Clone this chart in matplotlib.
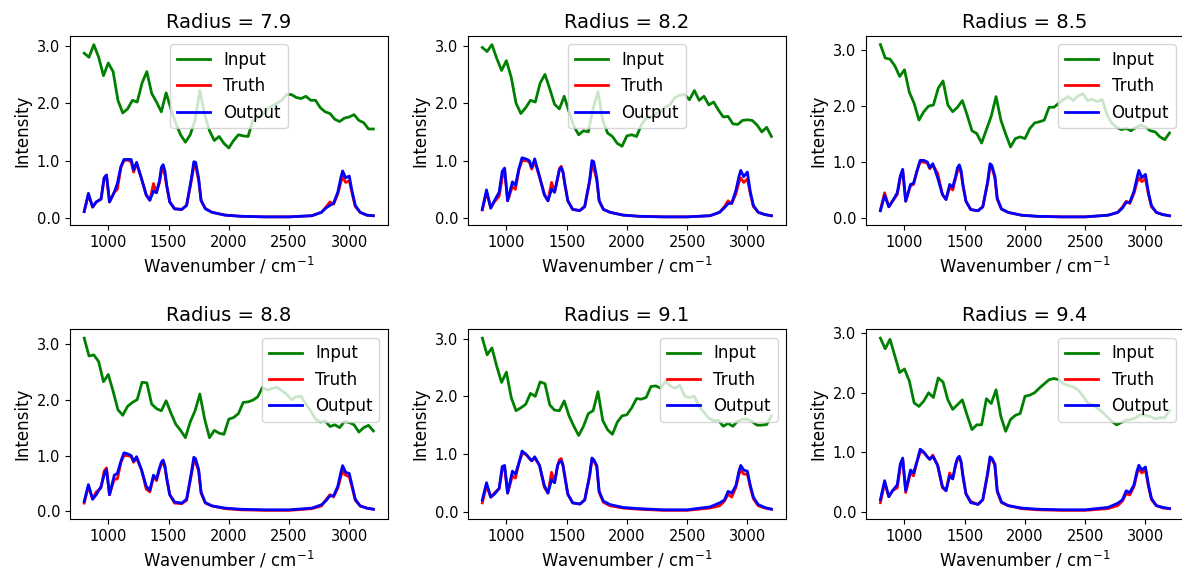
import matplotlib
matplotlib.use("Agg")
import matplotlib.pyplot as plt
from matplotlib.ticker import FormatStrFormatter
import numpy as np

radii = [7.9, 8.2, 8.5, 8.8, 9.1, 9.4]

# wavenumber grids (cm^-1)
wn_input = np.arange(800, 3201, 40)
wn_spec = [800, 835, 870, 900, 940, 965, 985, 1010, 1050, 1075, 1105, 1130, 1160, 1190,
           1210, 1235, 1275, 1315, 1345, 1375, 1400, 1425, 1440, 1455, 1470, 1485, 1510,
           1550, 1610, 1650, 1690, 1710, 1725, 1750, 1770, 1805, 1860, 1970, 2100, 2300,
           2500, 2690, 2770, 2810, 2840, 2870, 2905, 2930, 2945, 2970, 3000, 3025, 3050,
           3090, 3145, 3200]

# input spectra
input_79 = [2.87, 2.80, 3.02, 2.80, 2.48, 2.70, 2.55, 2.05, 1.83, 1.90, 2.05, 2.02, 2.35, 2.55,
            2.17, 2.02, 1.85, 2.18, 1.90, 1.65, 1.45, 1.32, 1.45, 1.70, 2.22, 1.80, 1.52, 1.35,
            1.42, 1.30, 1.22, 1.35, 1.45, 1.43, 1.42, 1.70, 1.75, 1.80, 1.90, 1.95, 2.00, 2.05,
            2.15, 2.15, 2.10, 2.08, 2.12, 2.05, 2.05, 1.92, 1.85, 1.82, 1.72, 1.68, 1.74, 1.76,
            1.80, 1.70, 1.66, 1.55, 1.55]
input_82 = [2.97, 2.90, 3.02, 2.78, 2.57, 2.74, 2.45, 2.00, 1.82, 1.92, 2.05, 2.02, 2.35, 2.50,
            2.25, 1.98, 1.90, 2.12, 1.85, 1.60, 1.45, 1.52, 1.50, 1.91, 2.20, 1.70, 1.48, 1.42,
            1.30, 1.25, 1.43, 1.45, 1.42, 1.62, 1.74, 1.75, 1.82, 1.85, 1.93, 1.98, 2.10, 2.14,
            2.15, 2.06, 2.22, 2.05, 2.12, 1.97, 2.02, 1.88, 1.76, 1.77, 1.64, 1.63, 1.70, 1.71,
            1.70, 1.62, 1.50, 1.58, 1.42]
input_85 = [3.10, 2.86, 2.84, 2.72, 2.53, 2.65, 2.25, 2.05, 1.75, 1.90, 2.00, 2.02, 2.32, 2.45,
            2.02, 1.90, 1.98, 2.10, 1.84, 1.56, 1.51, 1.34, 1.58, 1.82, 2.17, 1.75, 1.50, 1.27,
            1.42, 1.45, 1.42, 1.60, 1.70, 1.72, 1.75, 1.98, 1.98, 2.05, 2.12, 2.17, 2.10, 2.18,
            2.22, 2.10, 2.12, 2.08, 2.12, 1.85, 1.70, 1.62, 1.58, 1.60, 1.56, 1.62, 1.66, 1.63,
            1.56, 1.54, 1.45, 1.40, 1.52]
input_88 = [3.10, 2.78, 2.80, 2.68, 2.32, 2.45, 2.15, 1.82, 1.72, 1.88, 1.95, 2.00, 2.31, 2.30,
            1.92, 1.84, 1.80, 1.98, 1.76, 1.56, 1.45, 1.32, 1.60, 1.80, 2.10, 1.65, 1.32, 1.45,
            1.40, 1.38, 1.65, 1.68, 1.75, 1.95, 1.96, 1.99, 2.05, 2.22, 2.17, 2.20, 2.22, 2.16,
            2.10, 2.00, 2.05, 2.06, 1.92, 1.80, 1.65, 1.60, 1.62, 1.52, 1.55, 1.50, 1.61, 1.59,
            1.55, 1.42, 1.50, 1.54, 1.44]
input_91 = [3.01, 2.72, 2.84, 2.52, 2.24, 2.42, 1.98, 1.75, 1.80, 1.86, 2.05, 2.00, 2.25, 2.22,
            1.85, 1.76, 1.75, 1.92, 1.66, 1.48, 1.32, 1.48, 1.70, 1.75, 2.08, 1.58, 1.42, 1.34,
            1.55, 1.66, 1.68, 1.80, 1.96, 1.95, 1.98, 2.17, 2.18, 2.14, 2.26, 2.18, 2.14, 2.19,
            2.00, 1.98, 2.00, 1.82, 1.72, 1.62, 1.58, 1.58, 1.48, 1.53, 1.48, 1.57, 1.60, 1.60,
            1.56, 1.50, 1.50, 1.51, 1.66]
input_94 = [2.92, 2.74, 2.90, 2.62, 2.34, 2.40, 2.20, 1.83, 1.77, 1.86, 2.00, 1.92, 2.25, 2.18,
            1.88, 1.72, 1.80, 1.88, 1.62, 1.38, 1.46, 1.46, 1.90, 1.82, 2.05, 1.60, 1.35, 1.55,
            1.62, 1.65, 1.94, 1.96, 2.00, 2.08, 2.15, 2.22, 2.24, 2.22, 2.15, 2.12, 2.10, 2.05,
            1.95, 1.83, 1.80, 1.74, 1.68, 1.60, 1.52, 1.46, 1.50, 1.54, 1.55, 1.58, 1.63, 1.62,
            1.60, 1.56, 1.58, 1.58, 1.70]

# ground truth spectra
truth_79 = [0.12, 0.40, 0.19, 0.28, 0.33, 0.68, 0.74, 0.28, 0.45, 0.50, 0.88, 1.00, 1.01, 0.98,
            0.80, 0.95, 0.69, 0.40, 0.31, 0.60, 0.45, 0.62, 0.80, 0.85, 0.75, 0.55, 0.28,
            0.16, 0.15, 0.22, 0.66, 0.90, 0.90, 0.66, 0.30, 0.17, 0.10, 0.05, 0.03, 0.02,
            0.02, 0.04, 0.10, 0.20, 0.28, 0.24, 0.42, 0.62, 0.72, 0.62, 0.65, 0.42, 0.20,
            0.10, 0.05, 0.04]
truth_82 = [0.14, 0.45, 0.18, 0.28, 0.38, 0.70, 0.85, 0.30, 0.55, 0.50, 0.85, 1.00, 1.00, 0.98,
            0.85, 0.98, 0.72, 0.42, 0.30, 0.62, 0.45, 0.68, 0.86, 0.90, 0.80, 0.58, 0.30,
            0.15, 0.13, 0.20, 0.62, 0.90, 0.88, 0.66, 0.30, 0.15, 0.10, 0.05, 0.03, 0.02,
            0.02, 0.04, 0.10, 0.20, 0.30, 0.25, 0.42, 0.62, 0.70, 0.62, 0.68, 0.42, 0.20,
            0.10, 0.06, 0.04]
truth_85 = [0.14, 0.45, 0.20, 0.30, 0.42, 0.72, 0.85, 0.30, 0.58, 0.60, 0.85, 1.00, 1.00, 0.98,
            0.88, 0.95, 0.80, 0.42, 0.33, 0.55, 0.50, 0.72, 0.84, 0.88, 0.80, 0.58, 0.30,
            0.15, 0.13, 0.20, 0.62, 0.92, 0.90, 0.72, 0.33, 0.16, 0.10, 0.05, 0.03, 0.02,
            0.02, 0.05, 0.10, 0.20, 0.30, 0.26, 0.44, 0.64, 0.72, 0.65, 0.70, 0.42, 0.20,
            0.10, 0.06, 0.04]
truth_88 = [0.15, 0.45, 0.22, 0.35, 0.42, 0.72, 0.78, 0.30, 0.58, 0.58, 0.88, 1.00, 1.00, 0.98,
            0.88, 0.95, 0.75, 0.40, 0.35, 0.62, 0.55, 0.75, 0.84, 0.88, 0.78, 0.58, 0.30,
            0.15, 0.14, 0.20, 0.66, 0.90, 0.88, 0.72, 0.33, 0.15, 0.10, 0.05, 0.03, 0.02,
            0.02, 0.05, 0.10, 0.22, 0.30, 0.26, 0.42, 0.62, 0.72, 0.65, 0.62, 0.42, 0.20,
            0.10, 0.06, 0.04]
truth_91 = [0.15, 0.45, 0.25, 0.32, 0.40, 0.72, 0.78, 0.32, 0.62, 0.58, 0.85, 1.00, 1.00, 0.92,
            0.88, 0.93, 0.80, 0.42, 0.32, 0.68, 0.50, 0.80, 0.90, 0.92, 0.80, 0.62, 0.30,
            0.15, 0.13, 0.20, 0.60, 0.90, 0.88, 0.78, 0.33, 0.16, 0.10, 0.06, 0.04, 0.02,
            0.02, 0.06, 0.10, 0.18, 0.30, 0.25, 0.42, 0.64, 0.72, 0.65, 0.65, 0.42, 0.22,
            0.10, 0.06, 0.04]
truth_94 = [0.15, 0.48, 0.25, 0.35, 0.40, 0.75, 0.88, 0.32, 0.65, 0.60, 0.85, 1.00, 1.00, 0.92,
            0.88, 0.95, 0.78, 0.40, 0.35, 0.65, 0.55, 0.78, 0.88, 0.92, 0.82, 0.60, 0.30,
            0.17, 0.12, 0.20, 0.62, 0.90, 0.88, 0.78, 0.33, 0.15, 0.10, 0.05, 0.03, 0.02,
            0.02, 0.05, 0.10, 0.18, 0.30, 0.28, 0.42, 0.64, 0.72, 0.65, 0.70, 0.42, 0.20,
            0.10, 0.06, 0.05]

# network output spectra
output_79 = [0.11, 0.43, 0.19, 0.28, 0.33, 0.70, 0.75, 0.28, 0.45, 0.60, 0.90, 1.02, 1.02, 1.02,
             0.84, 0.97, 0.69, 0.40, 0.31, 0.47, 0.44, 0.65, 0.88, 0.93, 0.82, 0.57, 0.28,
             0.16, 0.15, 0.22, 0.69, 0.98, 0.97, 0.69, 0.31, 0.16, 0.10, 0.05, 0.03, 0.02,
             0.02, 0.04, 0.10, 0.18, 0.22, 0.26, 0.45, 0.70, 0.82, 0.70, 0.73, 0.45, 0.22,
             0.10, 0.05, 0.04]
output_82 = [0.15, 0.49, 0.17, 0.30, 0.45, 0.81, 0.87, 0.30, 0.63, 0.57, 0.87, 1.05, 1.03, 1.00,
             0.88, 1.03, 0.72, 0.40, 0.30, 0.50, 0.45, 0.70, 0.84, 0.88, 0.80, 0.60, 0.30,
             0.15, 0.13, 0.20, 0.65, 1.00, 0.98, 0.70, 0.30, 0.15, 0.10, 0.05, 0.03, 0.02,
             0.02, 0.04, 0.10, 0.18, 0.25, 0.26, 0.48, 0.72, 0.83, 0.72, 0.80, 0.45, 0.22,
             0.10, 0.06, 0.04]
output_85 = [0.13, 0.40, 0.20, 0.30, 0.45, 0.75, 0.87, 0.30, 0.60, 0.62, 0.85, 1.03, 1.03, 1.00,
             0.90, 0.97, 0.72, 0.42, 0.33, 0.60, 0.55, 0.75, 0.90, 0.95, 0.85, 0.60, 0.30,
             0.15, 0.13, 0.20, 0.65, 0.97, 0.94, 0.75, 0.35, 0.16, 0.10, 0.05, 0.03, 0.02,
             0.02, 0.05, 0.10, 0.18, 0.28, 0.28, 0.48, 0.72, 0.85, 0.72, 0.78, 0.45, 0.22,
             0.10, 0.06, 0.04]
output_88 = [0.18, 0.48, 0.22, 0.30, 0.45, 0.65, 0.75, 0.30, 0.65, 0.68, 0.90, 1.05, 1.03, 1.00,
             0.90, 0.98, 0.75, 0.45, 0.38, 0.65, 0.58, 0.78, 0.88, 0.92, 0.82, 0.60, 0.30,
             0.17, 0.15, 0.22, 0.70, 0.97, 0.94, 0.75, 0.35, 0.16, 0.10, 0.06, 0.04, 0.03,
             0.03, 0.06, 0.12, 0.20, 0.28, 0.28, 0.45, 0.70, 0.82, 0.70, 0.68, 0.45, 0.22,
             0.10, 0.06, 0.04]
output_91 = [0.20, 0.50, 0.25, 0.30, 0.40, 0.78, 0.80, 0.32, 0.70, 0.65, 0.85, 1.05, 1.00, 0.93,
             0.88, 0.95, 0.80, 0.45, 0.32, 0.55, 0.50, 0.80, 0.86, 0.88, 0.80, 0.60, 0.30,
             0.15, 0.13, 0.20, 0.62, 0.93, 0.90, 0.80, 0.35, 0.18, 0.12, 0.07, 0.05, 0.03,
             0.03, 0.08, 0.15, 0.20, 0.35, 0.32, 0.45, 0.70, 0.80, 0.72, 0.70, 0.45, 0.25,
             0.12, 0.07, 0.04]
output_94 = [0.20, 0.52, 0.25, 0.35, 0.45, 0.80, 0.90, 0.35, 0.70, 0.65, 0.85, 1.05, 1.00, 0.92,
             0.88, 0.93, 0.78, 0.42, 0.35, 0.60, 0.55, 0.80, 0.90, 0.93, 0.84, 0.60, 0.30,
             0.15, 0.12, 0.20, 0.65, 0.92, 0.90, 0.80, 0.35, 0.16, 0.10, 0.06, 0.04, 0.03,
             0.03, 0.07, 0.14, 0.20, 0.35, 0.32, 0.45, 0.68, 0.78, 0.70, 0.75, 0.45, 0.22,
             0.10, 0.07, 0.05]

inputs = [input_79, input_82, input_85, input_88, input_91, input_94]
truths = [truth_79, truth_82, truth_85, truth_88, truth_91, truth_94]
outputs = [output_79, output_82, output_85, output_88, output_91, output_94]
legend_locs = ["upper center", "upper center", "upper right",
               "upper right", "upper right", "upper right"]

fig, axes = plt.subplots(2, 3, figsize=(11.82, 5.76), dpi=100)
fig.subplots_adjust(left=0.059, right=1.0017, top=0.9375, bottom=0.099,
                    wspace=0.2516, hspace=0.549)

for i, ax in enumerate(axes.flat):
    ax.plot(wn_input, inputs[i], color="g", lw=2, label="Input")
    ax.plot(wn_spec, truths[i], color="r", lw=2, label="Truth")
    ax.plot(wn_spec, outputs[i], color="b", lw=2, label="Output")
    ax.set_title("Radius = %.1f" % radii[i], fontsize=14)
    ax.set_xlabel("Wavenumber / cm$^{-1}$", fontsize=12)
    ax.set_ylabel("Intensity", fontsize=12)
    ax.set_xticks([1000, 1500, 2000, 2500, 3000])
    ax.set_yticks([0, 1, 2, 3])
    ax.yaxis.set_major_formatter(FormatStrFormatter("%.1f"))
    ax.tick_params(labelsize=10.5)
    ax.legend(loc=legend_locs[i], fontsize=12)

fig.savefig("out.png", dpi=100)
